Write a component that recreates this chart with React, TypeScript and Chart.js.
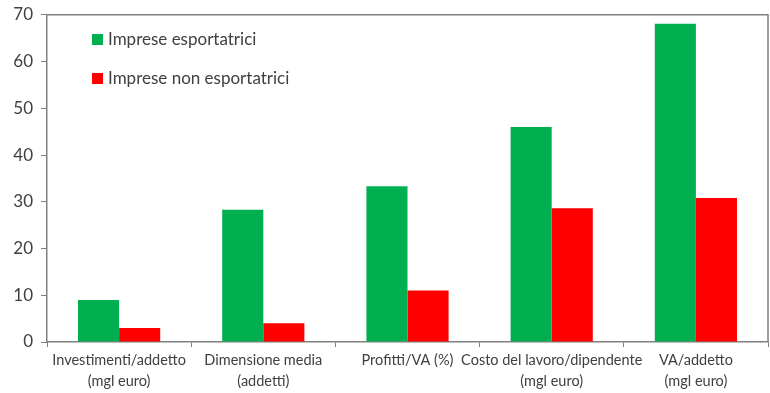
import React, { useEffect, useRef } from "react";
import { Chart, registerables } from "chart.js";

Chart.register(...registerables);

const categories: (string | string[])[] = [
  ["Investimenti/addetto", "(mgl euro)"],
  ["Dimensione media", "(addetti)"],
  "Profitti/VA (%)",
  ["Costo del lavoro/dipendente", "(mgl euro)"],
  ["VA/addetto", "(mgl euro)"],
];
const esportatrici = [9.0, 28.3, 33.3, 46.0, 68.1];
const nonEsportatrici = [3.0, 4.0, 11.0, 28.6, 30.8];
const seriesLabels = ["Imprese esportatrici", "Imprese non esportatrici"];
const seriesColors = ["#00B050", "#FF0000"];

const FONT = "Lato, 'Open Sans', sans-serif";

const frameAndLegend = {
  id: "frameAndLegend",
  afterDraw(chart: any) {
    const { ctx, chartArea } = chart;
    ctx.save();
    ctx.strokeStyle = "#808080";
    ctx.lineWidth = 1.5;
    ctx.beginPath();
    ctx.moveTo(chartArea.left, chartArea.top);
    ctx.lineTo(chartArea.right, chartArea.top);
    ctx.lineTo(chartArea.right, chartArea.bottom);
    ctx.stroke();
    // legend
    ctx.font = `17px ${FONT}`;
    ctx.textBaseline = "middle";
    chart.data.datasets.forEach((ds: any, i: number) => {
      const y = 40 + i * 39;
      ctx.fillStyle = ds.backgroundColor;
      ctx.fillRect(92, y - 6, 11, 11);
      ctx.fillStyle = "#404040";
      ctx.fillText(ds.label, 108, y);
    });
    ctx.restore();
  },
};

export default function App() {
  const ref = useRef<HTMLCanvasElement>(null);
  useEffect(() => {
    document.body.style.margin = "0";
    const chart = new Chart(ref.current!, {
      type: "bar",
      data: {
        labels: categories,
        datasets: [
          { label: seriesLabels[0], data: esportatrici, backgroundColor: seriesColors[0] },
          { label: seriesLabels[1], data: nonEsportatrici, backgroundColor: seriesColors[1] },
        ],
      },
      options: {
        animation: false,
        responsive: false,
        maintainAspectRatio: false,
        layout: { padding: { top: 5, right: 2, left: 0, bottom: 0 } },
        datasets: { bar: { barPercentage: 1, categoryPercentage: 0.57 } },
        plugins: { legend: { display: false }, tooltip: { enabled: false } },
        scales: {
          x: {
            grid: {
              offset: true,
              drawOnChartArea: false,
              drawTicks: true,
              tickLength: 5,
              color: "#808080",
            },
            border: { color: "#808080", width: 1.5 },
            ticks: {
              color: "#404040",
              font: { family: FONT, size: 14.5, lineHeight: 1.45 },
              maxRotation: 0,
              autoSkip: false,
              padding: 3,
            },
            afterFit(scale: any) {
              scale.height = 51;
            },
          },
          y: {
            min: 0,
            max: 70,
            ticks: {
              stepSize: 10,
              color: "#404040",
              font: { family: FONT, size: 17, lineHeight: 0.8 },
              padding: 8,
            },
            grid: {
              drawOnChartArea: false,
              drawTicks: true,
              tickLength: 6,
              color: "#808080",
            },
            border: { color: "#808080", width: 1.5 },
            afterFit(scale: any) {
              scale.width = 47;
            },
          },
        },
      },
      plugins: [frameAndLegend],
    });
    return () => chart.destroy();
  }, []);
  return (
    <div style={{ position: "fixed", left: 0, top: 0, width: 770, height: 393, background: "#fff" }}>
      <canvas ref={ref} width={770} height={393} style={{ width: 770, height: 393 }} />
    </div>
  );
}
